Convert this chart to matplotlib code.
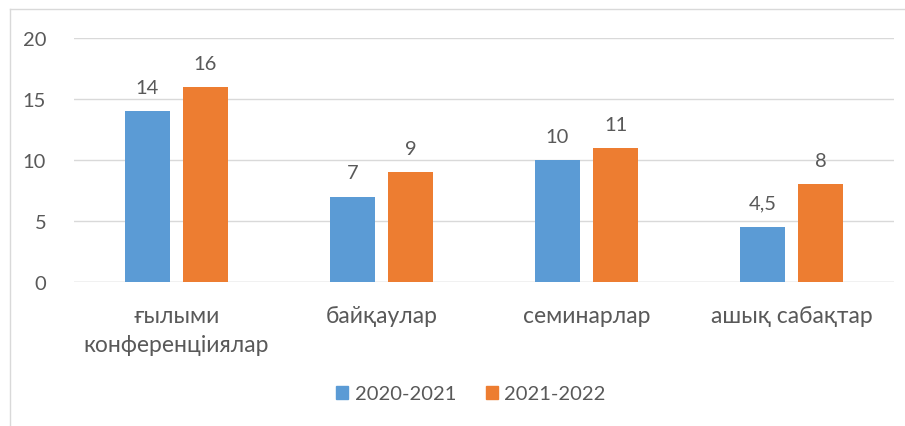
import matplotlib
matplotlib.use("Agg")
import matplotlib.pyplot as plt
import numpy as np
from matplotlib.lines import Line2D
from matplotlib.patches import Patch

categories = ["ғылыми\nконференціиялар", "байқаулар", "семинарлар", "ашық сабақтар"]
series_names = ["2020-2021", "2021-2022"]
values_2020 = [14, 7, 10, 4.5]
values_2021 = [16, 9, 11, 8]
value_labels_2020 = ["14", "7", "10", "4,5"]
value_labels_2021 = ["16", "9", "11", "8"]
yticks = [0, 5, 10, 15, 20]

plt.rcParams['font.family'] = ['Lato', 'DejaVu Sans']
txt = '#595959'
blue = '#5B9BD5'
orange = '#ED7D31'
fs = 14.5

W, H = 905, 427
fig = plt.figure(figsize=(W/100, H/100), dpi=100)
ax = fig.add_axes([74/W, 1-283/H, (894-74)/W, (283-39)/H])

x = np.arange(len(categories))
bw = 0.22
gap = 0.063
off = (bw + gap) / 2
b1 = ax.bar(x - off, values_2020, bw, color=blue, zorder=3)
b2 = ax.bar(x + off, values_2021, bw, color=orange, zorder=3)
for bars, labs in ((b1, value_labels_2020), (b2, value_labels_2021)):
    for r, l in zip(bars, labs):
        ax.annotate(l, (r.get_x() + r.get_width()/2, r.get_height()),
                    xytext=(0, 11), textcoords='offset points', ha='center', va='bottom',
                    fontsize=fs, color=txt)

ax.set_xlim(-0.5, len(categories) - 0.5)
ax.set_ylim(0, 20)
ax.set_yticks(yticks)
ax.set_yticklabels([str(t) for t in yticks], fontsize=fs, color=txt)
ax.set_xticks(x)
ax.set_xticklabels(categories, fontsize=16.5, color=txt, linespacing=1.45)
ax.tick_params(axis='both', length=0)
ax.tick_params(axis='y', pad=20)
ax.tick_params(axis='x', pad=16.5)
ax.grid(axis='y', color='#D9D9D9', linewidth=1, zorder=0)
for s in ax.spines.values():
    s.set_visible(False)
ax.axhline(0, color='#D9D9D9', linewidth=1, zorder=2)

handles = [Patch(color=blue), Patch(color=orange)]
fig.legend(handles, series_names, loc='center', bbox_to_anchor=(471/W, 1-395/H), ncol=2,
           frameon=False, fontsize=fs, labelcolor=txt, handlelength=0.6, handleheight=0.6,
           handletextpad=0.3, columnspacing=1.5)

# chart border (top and left visible)
fig.add_artist(Line2D([10/W, 10/W], [0, 1-10/H], color='#D9D9D9', linewidth=1, transform=fig.transFigure))
fig.add_artist(Line2D([10/W, 1], [1-10/H, 1-10/H], color='#D9D9D9', linewidth=1, transform=fig.transFigure))

fig.savefig('out.png', dpi=100)
